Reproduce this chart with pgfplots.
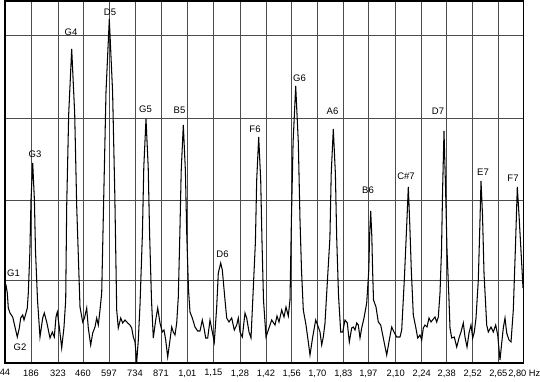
\documentclass[border=0pt]{standalone}
\usepackage{fontspec}
\setmainfont{Liberation Sans}
\usepackage{pgfplots}
\pgfplotsset{compat=1.18}
\begin{document}
\begin{tikzpicture}
\useasboundingbox (-5pt,-18pt) rectangle (535pt,363pt);
\begin{axis}[
  scale only axis,
  width=518.3pt, height=362pt,
  xmin=5, xmax=523.3, ymin=-3, ymax=359,
  xtick={5,31,58,83,109,135,161,187.3,213.3,240,266,291.7,317.3,343.3,368.3,395.7,421.7,446.7,472.7,498.3,523.3},
  xticklabels={44,186,323,460,597,734,871,{1,01},{1,15},{1,28},{1,42},{1,56},{1,70},{1,83},{1,97},{2,10},{2,24},{2,38},{2,52},{2,65\hspace{1.5pt}},{\hspace{2pt}2,80 Hz}},
  ytick={80,160,241.5,325},
  yticklabels={},
  major tick length=0pt,
  grid=major,
  major grid style={line width=0.6pt, black!70},
  axis line style={line width=1.5pt, black},
  tick label style={font=\fontsize{9.3}{11}\selectfont, text=black},
  /pgf/number format/assume math mode=true,
  xticklabel shift=3pt,
]
\addplot[black, line width=1.05pt, mark=none] coordinates {
(5,77)(6,75)(7.3,67)(8.3,52)(10,47)(12.7,43)(15,33)(17.3,23)(19.3,32)(20.7,42)(22.7,45)(24,40)(26,47)(27.3,52)(28.3,67)
(29.9,109)(31.0,160)(32.7,197)(34.4,160)(35.5,109)(37.5,60)(40,23)(42.7,42)(44.3,47)(46.7,38)(50,22)(52.3,28)(54.3,23)(56,43)(57.3,48)(59.3,33)(61.7,12)(64,33)(65.7,60)
(66.7,154)(68.7,246)(71.7,311)(74.7,246)(76.7,154)(80,53)(82.7,38)(84.5,42)(86.7,52)(88.3,32)(90.7,15)(92.7,27)(95,33)(96.7,42)(98.3,35)(100,50)(101.7,67)
(103.8,166)(106,268)(109.3,341)(112.6,268)(114.8,166)(116.7,50)(118.3,32)(120.7,42)(122.7,37)(125,40)(127.7,37)(130,35)(131.7,32)(133.3,23)(135,18)(136.7,-2)(138.3,20)(140,55)
(142.4,126)(143.8,193)(146,241)(148.2,193)(149.6,126)(151.5,60)(153.3,22)(155.7,40)(157.7,52)(160,37)(162.3,28)(164,30)(165.7,20)(167.7,3)(170,20)(171.7,33)(173.3,28)(175,25)(176.7,37)(178.3,63)
(179.8,124)(181.2,189)(183.3,235)(185.4,189)(186.8,124)(188.5,70)(190,48)(192.3,42)(195,33)(197.7,29)(200,29)(202.3,40)(204,32)(205.7,22)(207.7,22)(210,40)(212.3,28)(214.3,18)
(216.7,53)(218.3,87)(220.7,97)(222.3,90)(225,60)(226.7,42)(229,38)(231.7,42)(234.3,30)(236.7,35)(238.3,42)(240,28)(242.3,23)(245,47)(246.7,42)(249,28)(251,22)(252.3,50)
(255.4,118)(256.7,180)(258.7,223)(260.7,180)(262,118)(263.5,60)(266,23)(268.3,30)(271.7,40)(275,35)(277,44)(279,38)(281.7,50)(284,43)(286,53)(288.3,44)(290,60)
(291.4,140)(293.1,218)(295.7,274)(298.3,218)(300,140)(301.5,90)(303.3,50)(306,35)(308.3,18)(310,5)(312.7,23)(315.7,40)(318.3,33)(320,28)(321.7,15)(323.3,23)(325,37)(326.7,67)
(329.9,122)(331.2,186)(333.3,231)(335.4,186)(336.7,122)(338.5,65)(340.7,28)(342.7,28)(345,40)(347.3,37)(349.3,18)(351.7,32)(353.3,33)(355,30)(356.7,37)(358.3,35)(360,22)(361.7,32)(364,42)(366.7,57)
(368.8,90)(369.6,124)(370.7,149)(371.8,124)(372.6,90)(373.5,60)(376,53)(378.3,38)(380.7,35)(383.3,22)(386.7,5)(389.3,20)(391.7,33)(394,28)(396.7,23)(400,23)(401.7,30)
(404.3,80)(406.5,130)(408.3,173)(409.8,135)(411.3,90)(413.3,45)(415.7,33)(417.7,22)(420,25)(421.7,20)(423.3,32)(425,35)(427,33)(429,42)(431,38)(433.3,41)(435,43)(436.7,38)(438.3,43)(440,67)
(441.5,110)(442.6,170)(444,229)(445.6,170)(447,110)(449,60)(450,32)(451.7,22)(454.3,23)(456.7,13)(459,22)(461,28)(463.3,37)(465,23)(467,13)(469,27)(471,35)(472.7,22)(474.3,28)(476,42)
(478.3,80)(480,140)(481,179)(482.5,145)(484,87)(486.7,35)(488.3,28)(491,33)(493.3,28)(495.7,35)(497.7,25)(500,0)(501.7,17)(503.3,32)(505,42)(506.7,27)(509,20)(511,18)
(513.3,50)(515.5,115)(517.3,173)(519,145)(521.5,100)(523,72)
};
\begin{scope}[every node/.style={font=\fontsize{9.5}{11}\selectfont, inner sep=0pt}]
\node at (axis cs:13.5,87) {G1};
\node at (axis cs:20,13) {G2};
\node at (axis cs:35,206) {G3};
\node at (axis cs:71,328) {G4};
\node at (axis cs:110,348) {D5};
\node at (axis cs:145.5,251) {G5};
\node at (axis cs:179.5,250) {B5};
\node at (axis cs:222.5,106) {D6};
\node at (axis cs:255,231) {F6};
\node at (axis cs:299.5,282) {G6};
\node at (axis cs:332.5,249) {A6};
\node at (axis cs:368,170) {B6};
\node at (axis cs:406,184) {C\#7};
\node at (axis cs:438,248.5) {D7};
\node at (axis cs:483,187.5) {E7};
\node at (axis cs:513,182) {F7};
\end{scope}
\end{axis}
\end{tikzpicture}
\end{document}
